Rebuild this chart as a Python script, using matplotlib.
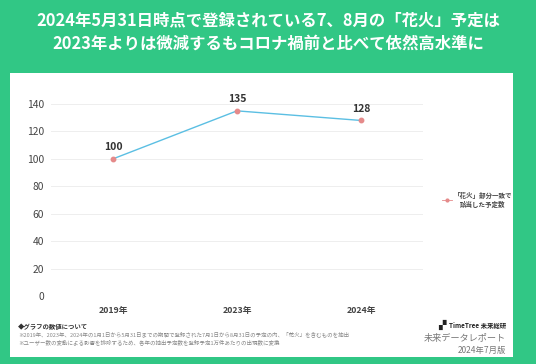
import matplotlib.pyplot as plt
from matplotlib.patches import Rectangle

plt.rcParams['font.family'] = ['Noto Sans CJK JP', 'DejaVu Sans']

years = ['2019年', '2023年', '2024年']
values = [100, 135, 128]
yticks = [0, 20, 40, 60, 80, 100, 120, 140]
title = '2024年5月31日時点で登録されている7、8月の「花火」予定は\n2023年よりは微減するもコロナ禍前と比べて依然高水準に'
legend_label = '「花火」部分一致で\n該当した予定数'
note_head = '◆グラフの数値について'
notes = ['※2019年、2023年、2024年の1月1日から5月31日までの期間で登録された7月1日から8月31日の予定の内、「花火」を含むものを抽出',
         '※ユーザー数の変動による影響を排除するため、各年の抽出予定数を登録予定1万件あたりの出現数に変換']

green = '#31C785'
W, H = 536, 364

fig = plt.figure(figsize=(W / 100, H / 100), dpi=100)
fig.patch.set_facecolor(green)

# white panel
fig.patches.append(Rectangle((10 / W, 1 - 357 / H), 503 / W, 284 / H,
                             transform=fig.transFigure, facecolor='white',
                             edgecolor='none', zorder=-5))

fig.text(0.5, 1 - 32 / H, title, ha='center', va='center', color='white',
         fontsize=11.8, fontweight='bold', linespacing=1.35)

ax = fig.add_axes([51 / W, 1 - 296 / H, 372 / W, 192 / H])
ax.set_facecolor('none')
ax.set_zorder(2)
x = range(len(years))
ax.plot(x, values, color='#5BBFE3', lw=1.0, zorder=2)
ax.plot(x, values, 'o', color='#E58A8A', ms=3.2, zorder=3)
for i, v in zip(x, values):
    ax.annotate(str(v), (i, v), xytext=(0, 5), textcoords='offset points',
                ha='center', va='bottom', fontsize=7.5, fontweight='bold', color='#333333')

ax.set_xlim(-0.5, len(years) - 0.5)
ax.set_ylim(0, 140)
ax.set_yticks(yticks)
ax.set_xticks(list(x))
ax.set_xticklabels(years, fontsize=6.3, fontweight='bold', color='#444444')
ax.tick_params(axis='y', labelsize=7.4, colors='#444444', length=0, pad=5)
ax.tick_params(axis='x', length=0, pad=7)
ax.grid(axis='y', color='#EEEEEE', lw=0.7)
ax.set_axisbelow(True)
for s in ax.spines.values():
    s.set_visible(False)

# legend
fig.lines.append(plt.Line2D([442 / W, 452 / W], [1 - 200 / H] * 2, transform=fig.transFigure,
                            color='#E58A8A', lw=0.6))
fig.lines.append(plt.Line2D([447 / W], [1 - 200 / H], transform=fig.transFigure,
                            marker='o', ms=2, color='#E58A8A'))
fig.text(483 / W, 1 - 200 / H, legend_label, ha='center', va='center',
         fontsize=4.7, fontweight='bold', color='#444444', linespacing=1.3)

# notes
fig.text(18 / W, 1 - 326 / H, note_head, ha='left', va='center',
         fontsize=4.6, fontweight='bold', color='#333333')
fig.text(18 / W, 1 - 334.5 / H, notes[0], ha='left', va='center',
         fontsize=3.95, color='#888888')
fig.text(18 / W, 1 - 342.5 / H, notes[1], ha='left', va='center',
         fontsize=3.95, color='#888888')

fig.text(506 / W, 1 - 325 / H, 'TimeTree 未来総研', ha='right', va='center',
         fontsize=4.6, fontweight='bold', color='#222222')
fig.text(442 / W, 1 - 325 / H, '▞', ha='center', va='center', fontsize=7, color='#222222',
         family=['DejaVu Sans'])
fig.text(506 / W, 1 - 338 / H, '未来データレポート', ha='right', va='center',
         fontsize=6.6, color='#777777')
fig.text(506 / W, 1 - 350 / H, '2024年7月版', ha='right', va='center',
         fontsize=6.0, color='#777777')

fig.savefig('out.png', dpi=100, facecolor=green)
